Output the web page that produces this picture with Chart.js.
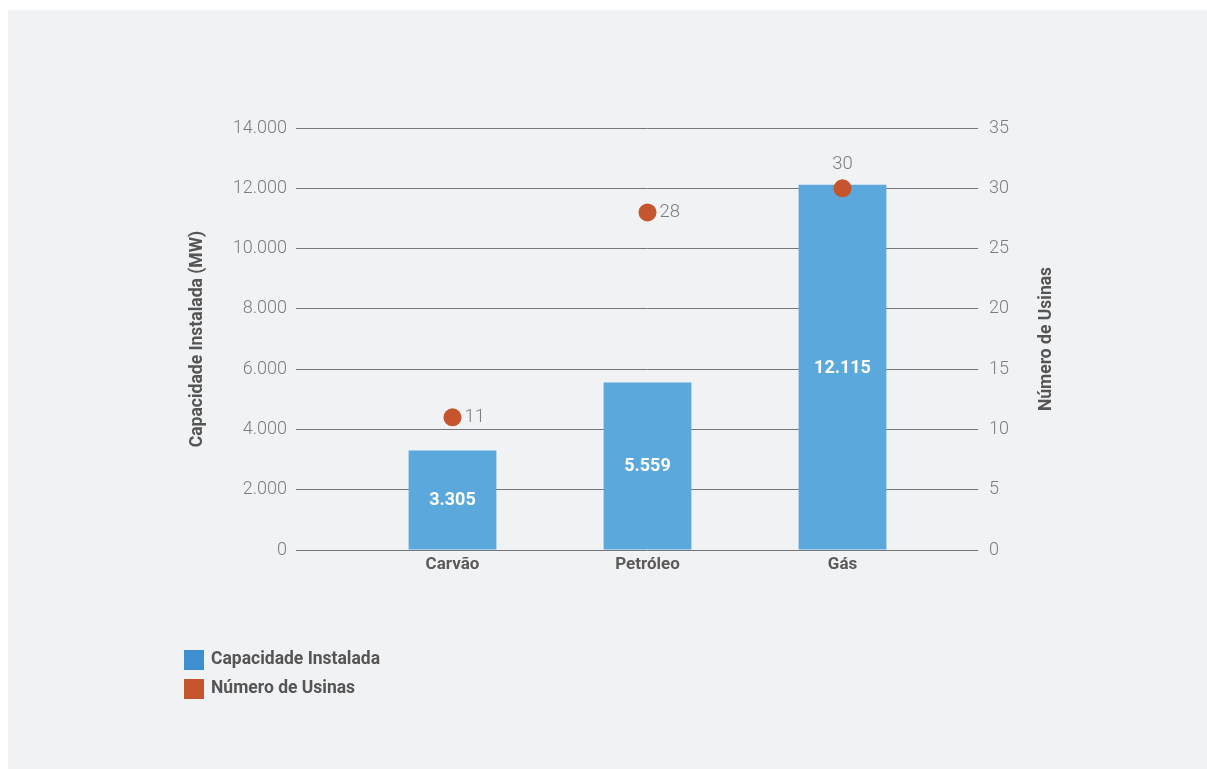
<!DOCTYPE html>
<html>
<head>
<meta charset="utf-8">
<script src="https://cdn.jsdelivr.net/npm/chart.js@4.4.1/dist/chart.umd.min.js"></script>
<style>
  html, body { margin: 0; padding: 0; background: #fff; }
  #wrap { position: absolute; left: 8px; top: 10px; width: 1199px; height: 759px; background: #f1f2f4; }
</style>
</head>
<body>
<div id="wrap"><canvas id="usinasChart" width="1199" height="759"></canvas></div>
<script>
const fontes = ["Carvão", "Petróleo", "Gás"];
const capacidadeMW = [3305, 5559, 12115];
const numeroUsinas = [11, 28, 30];
const legendaNomes = ["Capacidade Instalada", "Número de Usinas"];

const azul = "#5ba8dc";
const laranja = "#c5552d";
const cinzaTexto = "#555555";
const cinzaTick = "#7d7d7d";

// 14000 -> "14.000"
const fmt = (v) => String(v).replace(/\B(?=(\d{3})+(?!\d))/g, ".");

const rotulos = {
  id: "rotulos",
  afterDatasetsDraw(chart) {
    const ctx = chart.ctx;
    const barras = chart.getDatasetMeta(0).data;
    const pontos = chart.getDatasetMeta(1).data;
    ctx.save();
    ctx.textBaseline = "middle";

    // white values inside the bars
    ctx.fillStyle = "#ffffff";
    ctx.textAlign = "center";
    ctx.font = "bold 18px Roboto";
    barras.forEach((b, i) => {
      ctx.fillText(fmt(capacidadeMW[i]), b.x, (b.y + b.base) / 2 + 1);
    });

    // plant counts next to the dots (above when the dot sits on the bar top)
    ctx.fillStyle = cinzaTick;
    ctx.font = "300 18.5px Roboto";
    pontos.forEach((p, i) => {
      const topoBarra = barras[i].y;
      if (Math.abs(p.y - topoBarra) < 20) {
        ctx.textAlign = "center";
        ctx.fillText(numeroUsinas[i], p.x, p.y - 24);
      } else {
        ctx.textAlign = "left";
        ctx.fillText(numeroUsinas[i], p.x + 12, p.y);
      }
    });
    ctx.restore();
  },
  afterDraw(chart) {
    const ctx = chart.ctx;
    const area = chart.chartArea;
    ctx.save();

    // right axis title, read bottom to top
    ctx.translate(1039, (area.top + area.bottom) / 2);
    ctx.rotate(-Math.PI / 2);
    ctx.fillStyle = cinzaTexto;
    ctx.font = "bold 17.5px Roboto";
    ctx.textAlign = "center";
    ctx.textBaseline = "middle";
    ctx.fillText("Número de Usinas", 0, 0);
    ctx.restore();

    // legend, stacked
    const cores = ["#3f8ecf", laranja];
    ctx.save();
    ctx.font = "bold 17.5px Roboto";
    ctx.textBaseline = "middle";
    ctx.textAlign = "left";
    legendaNomes.forEach((nome, i) => {
      const y = 640 + i * 29;
      ctx.fillStyle = cores[i];
      ctx.fillRect(176, y, 20, 20);
      ctx.fillStyle = cinzaTexto;
      ctx.fillText(nome, 203, y + 10);
    });
    ctx.restore();
  },
};

new Chart(document.getElementById("usinasChart"), {
  data: {
    labels: fontes,
    datasets: [
      {
        type: "bar",
        label: legendaNomes[0],
        data: capacidadeMW,
        backgroundColor: azul,
        yAxisID: "y",
        categoryPercentage: 1,
        barPercentage: 0.45,
        order: 2,
      },
      {
        type: "line",
        label: legendaNomes[1],
        data: numeroUsinas,
        showLine: false,
        pointRadius: 9,
        pointHoverRadius: 9,
        pointBackgroundColor: laranja,
        pointBorderWidth: 0,
        yAxisID: "y1",
        order: 1,
      },
    ],
  },
  options: {
    responsive: false,
    animation: false,
    layout: { padding: { top: 118, left: 177, right: 147, bottom: 189 } },
    plugins: {
      legend: { display: false },
      tooltip: { enabled: false },
    },
    scales: {
      x: {
        grid: { display: false, drawTicks: false },
        border: { display: false },
        ticks: {
          color: "#5a5a5a",
          font: { family: "Roboto", weight: "bold", size: 17 },
          padding: 5,
        },
        afterFit: (s) => { s.height = 30; },
      },
      y: {
        position: "left",
        min: 0,
        max: 14000,
        border: { display: false },
        grid: { color: "#777777", lineWidth: 1, tickLength: 59 },
        ticks: {
          stepSize: 2000,
          padding: 9,
          color: cinzaTick,
          font: { family: "Roboto", weight: "300", size: 18 },
          callback: (v) => fmt(v),
        },
        title: {
          display: true,
          text: "Capacidade Instalada (MW)",
          color: cinzaTexto,
          font: { family: "Roboto", weight: "bold", size: 17.5 },
          padding: { top: 2, bottom: 0 },
        },
        afterFit: (s) => { s.width = 170; },
      },
      y1: {
        position: "right",
        min: 0,
        max: 35,
        border: { display: false },
        grid: { drawOnChartArea: false, color: "#777777", lineWidth: 1, tickLength: 38 },
        ticks: {
          stepSize: 5,
          padding: 11,
          color: cinzaTick,
          font: { family: "Roboto", weight: "300", size: 18 },
        },
        afterFit: (s) => { s.width = 120; },
      },
    },
  },
  plugins: [rotulos],
});
</script>
</body>
</html>
